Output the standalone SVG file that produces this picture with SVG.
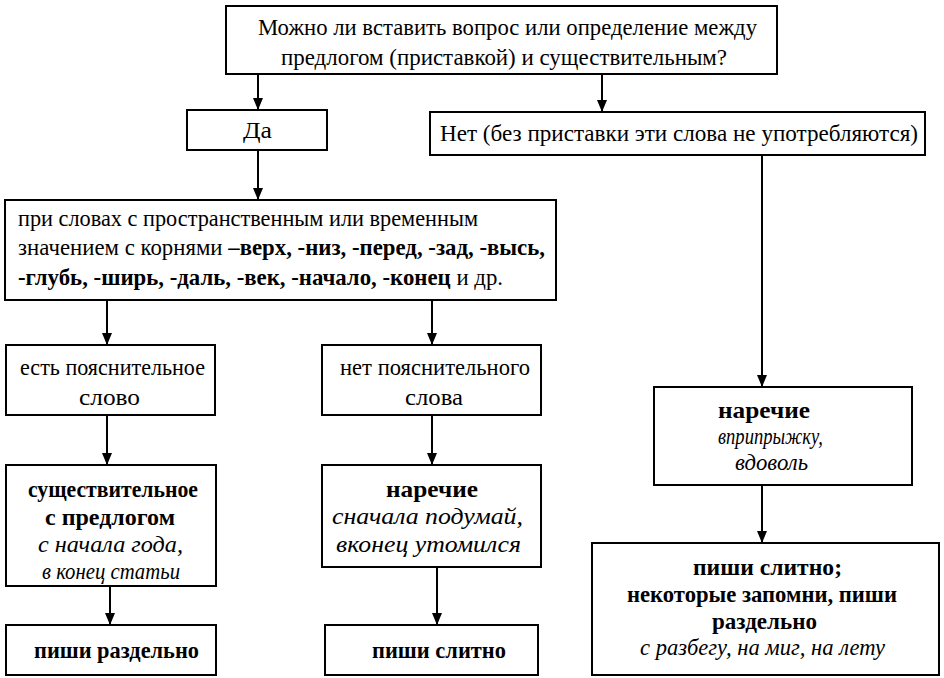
<svg xmlns="http://www.w3.org/2000/svg" width="944" height="678" viewBox="0 0 944 678">
<defs>
<marker id="ah" markerWidth="12" markerHeight="10" refX="12" refY="5" orient="auto" markerUnits="userSpaceOnUse" viewBox="0 0 12 10">
<path d="M0,0 L12,5 L0,10 Z" fill="#000"/>
</marker>
</defs>
<rect width="944" height="678" fill="#fff"/>
<g id="connectors" stroke="#000" stroke-width="2" fill="none" marker-end="url(#ah)">
<path d="M258,74 V110"/>
<path d="M602,74 V112"/>
<path d="M258,150 V200"/>
<path d="M762,155 V387"/>
<path d="M107,300 V345"/>
<path d="M432,300 V345"/>
<path d="M107,415 V465"/>
<path d="M432,415 V465"/>
<path d="M110,586 V625"/>
<path d="M437,567 V625"/>
<path d="M762,485 V543"/>
</g>
<g id="q">
<rect x="226" y="6" width="551" height="68" fill="#fff" stroke="#000" stroke-width="2"/>
<text font-family="Liberation Serif" font-size="23" x="258" y="35" textLength="499" lengthAdjust="spacingAndGlyphs">Можно ли вставить вопрос или определение между</text>
<text font-family="Liberation Serif" font-size="23" x="281" y="65" textLength="446" lengthAdjust="spacingAndGlyphs">предлогом (приставкой) и существительным?</text>
</g>
<g id="yes">
<rect x="187" y="110" width="140" height="40" fill="#fff" stroke="#000" stroke-width="2"/>
<text font-family="Liberation Serif" font-size="23" x="243" y="138" textLength="29" lengthAdjust="spacingAndGlyphs">Да</text>
</g>
<g id="no">
<rect x="430" y="112" width="495" height="43" fill="#fff" stroke="#000" stroke-width="2"/>
<text font-family="Liberation Serif" font-size="23" x="440" y="141" textLength="478" lengthAdjust="spacingAndGlyphs">Нет (без приставки эти слова не употребляются)</text>
</g>
<g id="roots">
<rect x="5" y="200" width="551" height="100" fill="#fff" stroke="#000" stroke-width="2"/>
<text font-family="Liberation Serif" font-size="23" x="18" y="226" textLength="460" lengthAdjust="spacingAndGlyphs">при словах с пространственным или временным</text>
<text font-family="Liberation Serif" font-size="23" x="18" y="255" textLength="527" lengthAdjust="spacingAndGlyphs">значением с корнями <tspan font-weight="bold">–верх, -низ, -перед, -зад, -высь,</tspan></text>
<text font-family="Liberation Serif" font-size="23" x="18" y="285" textLength="485" lengthAdjust="spacingAndGlyphs"><tspan font-weight="bold">-глубь, -ширь, -даль, -век, -начало, -конец</tspan> и др.</text>
</g>
<g id="has">
<rect x="6" y="345" width="209" height="70" fill="#fff" stroke="#000" stroke-width="2"/>
<text font-family="Liberation Serif" font-size="23" x="20" y="375" textLength="185" lengthAdjust="spacingAndGlyphs">есть пояснительное</text>
<text font-family="Liberation Serif" font-size="23" x="79" y="405" textLength="61" lengthAdjust="spacingAndGlyphs">слово</text>
</g>
<g id="hasnot">
<rect x="322" y="345" width="219" height="70" fill="#fff" stroke="#000" stroke-width="2"/>
<text font-family="Liberation Serif" font-size="23" x="340" y="375" textLength="190" lengthAdjust="spacingAndGlyphs">нет пояснительного</text>
<text font-family="Liberation Serif" font-size="23" x="405" y="405" textLength="58" lengthAdjust="spacingAndGlyphs">слова</text>
</g>
<g id="noun">
<rect x="6" y="465" width="210" height="121" fill="#fff" stroke="#000" stroke-width="2"/>
<text font-family="Liberation Serif" font-size="23" font-weight="bold" x="28" y="497" textLength="170" lengthAdjust="spacingAndGlyphs">существительное</text>
<text font-family="Liberation Serif" font-size="23" font-weight="bold" x="45" y="525" textLength="130" lengthAdjust="spacingAndGlyphs">с предлогом</text>
<text font-family="Liberation Serif" font-size="23" font-style="italic" x="38" y="552" textLength="145" lengthAdjust="spacingAndGlyphs">с начала года,</text>
<text font-family="Liberation Serif" font-size="23" font-style="italic" x="42" y="579" textLength="138" lengthAdjust="spacingAndGlyphs">в конец статьи</text>
</g>
<g id="adv1">
<rect x="322" y="465" width="219" height="102" fill="#fff" stroke="#000" stroke-width="2"/>
<text font-family="Liberation Serif" font-size="23" font-weight="bold" x="386" y="497" textLength="92" lengthAdjust="spacingAndGlyphs">наречие</text>
<text font-family="Liberation Serif" font-size="23" font-style="italic" x="332" y="524" textLength="191" lengthAdjust="spacingAndGlyphs">сначала подумай,</text>
<text font-family="Liberation Serif" font-size="23" font-style="italic" x="336" y="552" textLength="185" lengthAdjust="spacingAndGlyphs">вконец утомился</text>
</g>
<g id="sep">
<rect x="6" y="625" width="210" height="50" fill="#fff" stroke="#000" stroke-width="2"/>
<text font-family="Liberation Serif" font-size="23" font-weight="bold" x="34" y="658" textLength="165" lengthAdjust="spacingAndGlyphs">пиши раздельно</text>
</g>
<g id="tog">
<rect x="325" y="625" width="213" height="50" fill="#fff" stroke="#000" stroke-width="2"/>
<text font-family="Liberation Serif" font-size="23" font-weight="bold" x="372" y="658" textLength="134" lengthAdjust="spacingAndGlyphs">пиши слитно</text>
</g>
<g id="adv2">
<rect x="654" y="387" width="258" height="98" fill="#fff" stroke="#000" stroke-width="2"/>
<text font-family="Liberation Serif" font-size="23" font-weight="bold" x="718" y="418" textLength="92" lengthAdjust="spacingAndGlyphs">наречие</text>
<text font-family="Liberation Serif" font-size="23" font-style="italic" x="718" y="444" textLength="105" lengthAdjust="spacingAndGlyphs">вприпрыжку,</text>
<text font-family="Liberation Serif" font-size="23" font-style="italic" x="735" y="470" textLength="73" lengthAdjust="spacingAndGlyphs">вдоволь</text>
</g>
<g id="rule">
<rect x="592" y="543" width="347" height="132" fill="#fff" stroke="#000" stroke-width="2"/>
<text font-family="Liberation Serif" font-size="23" font-weight="bold" x="693" y="575" textLength="149" lengthAdjust="spacingAndGlyphs">пиши слитно;</text>
<text font-family="Liberation Serif" font-size="23" font-weight="bold" x="627" y="602" textLength="270" lengthAdjust="spacingAndGlyphs">некоторые запомни, пиши</text>
<text font-family="Liberation Serif" font-size="23" font-weight="bold" x="712" y="629" textLength="105" lengthAdjust="spacingAndGlyphs">раздельно</text>
<text font-family="Liberation Serif" font-size="23" font-style="italic" x="640" y="655" textLength="245" lengthAdjust="spacingAndGlyphs">с разбегу, на миг, на лету</text>
</g>
</svg>
